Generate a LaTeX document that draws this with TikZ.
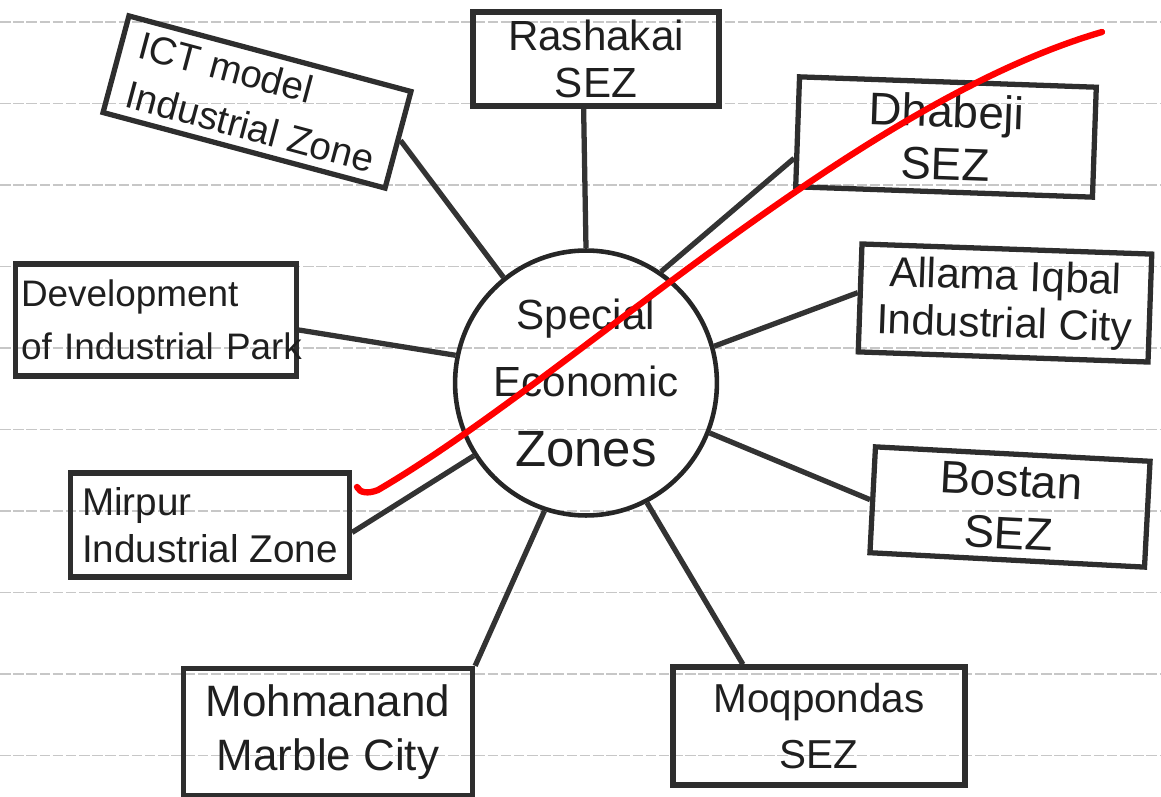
\documentclass[tikz,border=0pt]{standalone}
\usepackage{fontspec}
\setmainfont{Liberation Sans}
\usetikzlibrary{shapes.geometric}

\begin{document}
\begin{tikzpicture}[x=0.02cm, y=-0.02cm,
  zone/.style={draw=black!82, line width=3pt, text=black!88, inner sep=3pt,
    align=center, font=\fontsize{24}{27}\selectfont},
  link/.style={black!80, line width=3pt},
  ruled/.style={black!22, line width=0.7pt, dash pattern=on 6pt off 1.5pt}]
\useasboundingbox (0,0) rectangle (1161,797);

% paper lines
\foreach \k in {0,...,9}
  \draw [ruled] (0,{22+81.5*\k}) -- (1161,{22+81.5*\k});

% centre
\node [ellipse, draw=black!85, line width=2.6pt, minimum width=4.9cm, minimum height=5.3cm,
  inner sep=0pt, align=center, text=black!88, font=\fontsize{24}{38}\selectfont]
  (sez) at (586,383) {Special\\Economic\\[2pt]{\fontsize{29}{38}\selectfont Zones}};

% zones round it
\node [zone, rotate=-15, minimum width=5.84cm, minimum height=2cm, align=left,
  font=\fontsize{22}{29}\selectfont] (ict) at (257,102) {ICT model\\Industrial Zone};
\node [zone, minimum width=4.92cm, minimum height=1.88cm] (rash) at (596,59) {Rashakai\\SEZ};
\node [zone, rotate=-2, minimum width=5.94cm, minimum height=2.2cm,
  font=\fontsize{26}{30}\selectfont] (dhab) at (946,137) {Dhabeji\\SEZ};
\node [zone, rotate=-2, minimum width=5.8cm, minimum height=2.16cm] (allama) at (1005,303) {Allama Iqbal\\Industrial City};
\node [zone, rotate=-3, minimum width=5.5cm, minimum height=2.12cm,
  font=\fontsize{26}{30}\selectfont] (bostan) at (1010,507) {Bostan\\SEZ};
\node [zone, minimum width=5.84cm, minimum height=2.36cm,
  font=\fontsize{23}{32}\selectfont] (moq) at (819,726) {Moqpondas\\SEZ};
\node [zone, minimum width=5.78cm, minimum height=2.54cm,
  font=\fontsize{25}{31}\selectfont] (moh) at (328,732) {Mohmanand\\Marble City};
\node [zone, minimum width=5.58cm, minimum height=2.08cm, align=left,
  font=\fontsize{22}{27}\selectfont] (mir) at (210,525) {Mirpur\\Industrial Zone};
\node [zone, text width=5.4cm, minimum height=2.24cm, align=left,
  font=\fontsize{21}{30}\selectfont] (dev) at (156,320) {Development\\\mbox{of Industrial Park}};

% spokes
\draw [link] (ict.east) -- (sez.128);
\draw [link] (rash.-104) -- (sez.90);
\draw [link] (dhab.190) -- (sez.56);
\draw [link] (allama.178) -- (sez.16);
\draw [link] (bostan.west) -- (sez.-22);
\draw [link] (moq.141) -- (sez.-63);
\draw [link] (moh.north east) -- (sez.-108);
\draw [link] (mir.-3) -- (sez.213);
\draw [link] (dev.-4) -- (sez.168);

% red stroke across
\draw [red, line width=3.6pt, line cap=round]
  (357,487) .. controls (360,493) and (368,494) .. (378,490)
  .. controls (570,378) and (852,105) .. (1102,32);
\end{tikzpicture}
\end{document}
